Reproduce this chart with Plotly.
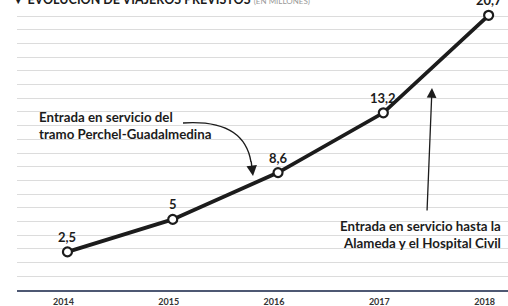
import plotly.graph_objects as go

# ---- data ----
years = [2014, 2015, 2016, 2017, 2018]
year_labels = ["2014", "2015", "2016", "2017", "2018"]
viajeros = [2.5, 5.0, 8.6, 13.2, 20.7]
value_labels = ["2,5", "5", "8,6", "13,2", "20,7"]

title_text = "▼ EVOLUCIÓN DE VIAJEROS PREVISTOS"
title_unit = "(EN MILLONES)"
note_left = "Entrada en servicio del<br>tramo Perchel-Guadalmedina"
note_right = "Entrada en servicio hasta la<br>Alameda y el Hospital Civil"

# ---- layout geometry ----
W, H = 508, 306
ML, MR, MT, MB = 17, 0, 0, 16
PW, PH = W - ML - MR, H - MT - MB
X0, X1 = 2013.521, 2018.184
Y0, Y1 = -0.431, 21.877
GRID_STEP = 1.0538
grid_vals = [Y0 + i * GRID_STEP for i in range(21)]


def px2x(px):
    return X0 + (px - ML) / PW * (X1 - X0)


def px2y(py):
    return Y1 - (py - MT) / PH * (Y1 - Y0)


FONT = "Lato"
INK = "#1c1c1c"

fig = go.Figure()
fig.add_trace(go.Scatter(
    x=years, y=viajeros, mode="lines+markers",
    line=dict(color=INK, width=3.8),
    marker=dict(symbol="circle", size=9, color="white",
                line=dict(color=INK, width=2.2)),
    hoverinfo="skip", cliponaxis=False,
))

annotations = []
for yr, v, t in zip(years, viajeros, value_labels):
    annotations.append(dict(x=yr, y=v, text=t, showarrow=False, yshift=15,
                            font=dict(family=FONT, size=13, color=INK, weight="bold")))

annotations.append(dict(
    xref="paper", yref="paper", x=(10 - ML) / PW, y=1, xanchor="left", yanchor="bottom",
    yshift=-9, showarrow=False,
    text=f"<b>{title_text}</b> <span style='font-size:8px;color:#9a9a9a'>{title_unit}</span>",
    font=dict(family=FONT, size=12.5, color=INK)))

annotations.append(dict(
    x=px2x(37), y=px2y(125), xanchor="left", yanchor="middle", align="left",
    text=note_left, showarrow=False,
    font=dict(family=FONT, size=13.3, color=INK, weight="bold")))
annotations.append(dict(
    x=px2x(503), y=px2y(234), xanchor="right", yanchor="middle", align="right",
    text=note_right, showarrow=False,
    font=dict(family=FONT, size=13.3, color=INK, weight="bold")))

# arrowheads
annotations.append(dict(
    x=px2x(253), y=px2y(176), ax=-2, ay=-16, text="", showarrow=True,
    arrowhead=2, arrowsize=1.5, arrowwidth=1.4, arrowcolor=INK))
annotations.append(dict(
    x=px2x(432), y=px2y(88), ax=-5, ay=124, text="", showarrow=True,
    arrowhead=2, arrowsize=1.5, arrowwidth=1.3, arrowcolor=INK))

shapes = [dict(
    type="path", xref="x", yref="y",
    path=(f"M {px2x(183)},{px2y(123)} Q {px2x(244)},{px2y(119)} {px2x(251)},{px2y(162)}"),
    line=dict(color=INK, width=1.4))]

fig.update_layout(
    width=W, height=H,
    margin=dict(l=ML, r=MR, t=MT, b=MB, pad=0),
    paper_bgcolor="white", plot_bgcolor="white",
    showlegend=False,
    annotations=annotations, shapes=shapes,
    xaxis=dict(range=[X0, X1], tickmode="array", tickvals=years, ticktext=year_labels,
               showgrid=False, zeroline=False, showline=True,
               linecolor="#4e5873", linewidth=1.5, ticks="",
               ticklabelstandoff=3, ticklabelshift=-4,
               tickfont=dict(family=FONT, size=9, color="#333333", weight="bold")),
    yaxis=dict(range=[Y0, Y1], tickmode="array", tickvals=grid_vals,
               showticklabels=False, showgrid=True, gridcolor="#dcdcdc", gridwidth=1,
               zeroline=False, showline=False, ticks=""),
)

fig.write_html(
    "out.html",
    config={"displayModeBar": False, "staticPlot": True},
    post_script="document.body.style.margin='0';document.body.style.overflow='hidden';",
)
